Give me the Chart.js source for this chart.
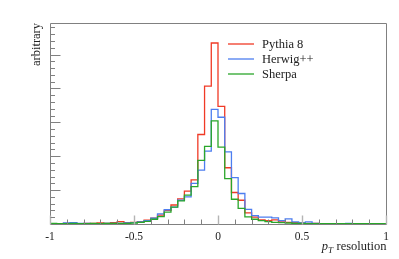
<!DOCTYPE html>
<html>
<head>
<meta charset="utf-8">
<script src="https://cdn.jsdelivr.net/npm/chart.js@4/dist/chart.umd.min.js"></script>
<style>
  html, body { margin: 0; padding: 0; background: #fff; }
</style>
</head>
<body>
<canvas id="myChart" width="399" height="259"></canvas>
<script>
"use strict";

// left edges of the 0.04 wide bins, plus the last right edge
const binEdges = [
  -1, -0.96, -0.92, -0.88, -0.84, -0.8, -0.76, -0.72, -0.68, -0.64,
  -0.6, -0.56, -0.52, -0.48, -0.44, -0.4, -0.36, -0.32, -0.28, -0.24,
  -0.2, -0.16, -0.12, -0.08, -0.04, 0, 0.04, 0.08, 0.12, 0.16,
  0.2, 0.24, 0.28, 0.32, 0.36, 0.4, 0.44, 0.48, 0.52, 0.56,
  0.6, 0.64, 0.68, 0.72, 0.76, 0.8, 0.84, 0.88, 0.92, 0.96, 1
];

const seriesNames = ["Pythia 8", "Herwig++", "Sherpa"];
const seriesColors = ["#f03a26", "#4d7ef0", "#2aa62a"];

const pythia = [
  0.01, 0.01, 0.02, 0.02, 0.01, 0.02, 0.02, 0.03, 0.02, 0.04,
  0.07, 0.04, 0.05, 0.07, 0.11, 0.17, 0.26, 0.4, 0.56, 0.74,
  0.97, 1.3, 2.64, 4.07, 5.34, 3.47, 1.66, 0.93, 0.7, 0.33,
  0.2, 0.12, 0.1, 0.12, 0.06, 0.05, 0.04, 0.03, 0.02, 0.02,
  0.01, 0.01, 0.01, 0.01, 0.01, 0.01, 0.01, 0.01, 0.01, 0.01
];
const herwig = [
  0.01, 0.01, 0.03, 0.04, 0.02, 0.02, 0.01, 0.01, 0.02, 0.02,
  0.02, 0.03, 0.04, 0.06, 0.1, 0.17, 0.3, 0.42, 0.5, 0.7,
  0.8, 1.2, 1.59, 2.15, 3.38, 3.15, 2.13, 1.37, 0.9, 0.43,
  0.25, 0.2, 0.2, 0.18, 0.1, 0.15, 0.06, 0.03, 0.06, 0.02,
  0.01, 0.01, 0.01, 0.01, 0.02, 0.01, 0.01, 0.01, 0.01, 0.01
];
const sherpa = [
  0.02, 0.01, 0.01, 0.02, 0.01, 0.01, 0.02, 0.01, 0.02, 0.02,
  0.02, 0.02, 0.03, 0.05, 0.08, 0.14, 0.22, 0.35, 0.5, 0.68,
  0.85, 1.1, 1.88, 2.29, 3.04, 2.27, 1.34, 0.73, 0.46, 0.21,
  0.14, 0.1, 0.07, 0.05, 0.04, 0.03, 0.02, 0.02, 0.01, 0.01,
  0.01, 0.01, 0.01, 0.01, 0.01, 0.01, 0.01, 0.01, 0.01, 0.01
];

const xTickLabels = ["-1", "-0.5", "0", "0.5", "1"];
const xMajorTicks = [-1, -0.5, 0, 0.5, 1];
const xMinorTicks = [-0.9, -0.8, -0.7, -0.6, -0.4, -0.3, -0.2, -0.1, 0.1, 0.2, 0.3, 0.4, 0.6, 0.7, 0.8, 0.9];
const yMajorTicks = [1, 2, 3, 4, 5];
const yMinorStep = 0.2;
const yMax = 5.93;

const serif = "'Liberation Serif', 'DejaVu Serif', serif";

// histogram as stepped line: one point per left edge, plus closing point at x=1
function toSteps(vals) {
  const pts = [];
  for (let i = 0; i < vals.length; i++) {
    pts.push({ x: binEdges[i], y: vals[i] });
  }
  pts.push({ x: binEdges[binEdges.length - 1], y: vals[vals.length - 1] });
  return pts;
}

const frame = {
  id: "frame",
  afterDatasetsDraw(chart) {
    const ctx = chart.ctx;
    const xs = chart.scales.x;
    const ys = chart.scales.y;
    const L = Math.round(xs.getPixelForValue(-1)) + 0.5;
    const R = Math.round(xs.getPixelForValue(1)) + 0.5;
    const B = Math.round(ys.getPixelForValue(0)) + 0.5;
    const T = Math.round(ys.getPixelForValue(yMax)) + 0.5;
    ctx.save();
    ctx.strokeStyle = "#808080";
    ctx.lineWidth = 1;
    ctx.beginPath();
    ctx.moveTo(L, T); ctx.lineTo(R, T); ctx.lineTo(R, B); ctx.lineTo(L, B); ctx.closePath();
    ctx.stroke();

    // x ticks, inward
    ctx.beginPath();
    xMinorTicks.forEach(v => {
      const p = Math.round(xs.getPixelForValue(v)) + 0.5;
      ctx.moveTo(p, B); ctx.lineTo(p, B - 5);
    });
    ctx.stroke();
    ctx.strokeStyle = "#b4b4b4";
    ctx.lineWidth = 1.4;
    ctx.beginPath();
    xMajorTicks.forEach(v => {
      const p = Math.round(xs.getPixelForValue(v)) + 0.5;
      ctx.moveTo(p, B); ctx.lineTo(p, B - 9);
    });
    ctx.stroke();

    // y ticks, inward
    ctx.strokeStyle = "#808080";
    ctx.lineWidth = 1;
    ctx.beginPath();
    for (let v = yMinorStep; v < yMax; v += yMinorStep) {
      const p = Math.round(ys.getPixelForValue(v)) + 0.5;
      ctx.moveTo(L, p); ctx.lineTo(L + 4.5, p);
    }
    yMajorTicks.forEach(v => {
      const p = Math.round(ys.getPixelForValue(v)) + 0.5;
      ctx.moveTo(L, p); ctx.lineTo(L + 10, p);
    });
    ctx.stroke();

    // tick labels
    ctx.fillStyle = "#222";
    ctx.font = "11.5px " + serif;
    ctx.textAlign = "center";
    ctx.textBaseline = "alphabetic";
    xMajorTicks.forEach((v, i) => {
      ctx.fillText(xTickLabels[i], xs.getPixelForValue(v), 240);
    });

    // x title: p_T resolution, right aligned to the frame
    ctx.textAlign = "left";
    ctx.font = "italic 12.5px " + serif;
    const wp = ctx.measureText("p").width;
    ctx.font = "italic 9px " + serif;
    const wT = ctx.measureText("T").width;
    ctx.font = "12.5px " + serif;
    const wr = ctx.measureText(" resolution").width;
    let x0 = R - (wp + wT + 0.5 + wr);
    ctx.font = "italic 12.5px " + serif;
    ctx.fillText("p", x0, 250);
    ctx.font = "italic 9px " + serif;
    ctx.fillText("T", x0 + wp, 252.5);
    ctx.font = "12.5px " + serif;
    ctx.fillText(" resolution", x0 + wp + wT + 0.5, 250);

    // y title
    ctx.save();
    ctx.translate(40, T - 0.5);
    ctx.rotate(-Math.PI / 2);
    ctx.textAlign = "right";
    ctx.fillText("arbitrary", 0, 0);
    ctx.restore();

    // legend
    ctx.font = "12.5px " + serif;
    ctx.textAlign = "left";
    seriesNames.forEach((name, i) => {
      const y = 44 + 15 * i;
      ctx.strokeStyle = seriesColors[i];
      ctx.lineWidth = 1.3;
      ctx.beginPath();
      ctx.moveTo(228, y); ctx.lineTo(254, y);
      ctx.stroke();
      ctx.fillStyle = "#222";
      ctx.fillText(name, 262, y + 3.8);
    });
    ctx.restore();
  }
};

const allSeries = [pythia, herwig, sherpa];
const config = {
  type: "line",
  data: {
    datasets: allSeries.map((vals, i) => ({
      label: seriesNames[i],
      data: toSteps(vals),
      borderColor: seriesColors[i],
      borderWidth: 1.3,
      pointRadius: 0,
      // "before": hold the bin value until the next edge, then step
      stepped: "before",
      fill: false,
      tension: 0,
      order: 3 - i
    }))
  },
  options: {
    responsive: false,
    animation: false,
    devicePixelRatio: 1,
    layout: { padding: { left: 50, right: 13, top: 23, bottom: 35 } },
    plugins: { legend: { display: false }, tooltip: { enabled: false } },
    scales: {
      x: { type: "linear", min: -1, max: 1, display: false },
      y: { type: "linear", min: 0, max: yMax, display: false }
    }
  },
  plugins: [frame]
};

const myChart = new Chart(document.getElementById("myChart"), config);
</script>
</body>
</html>
